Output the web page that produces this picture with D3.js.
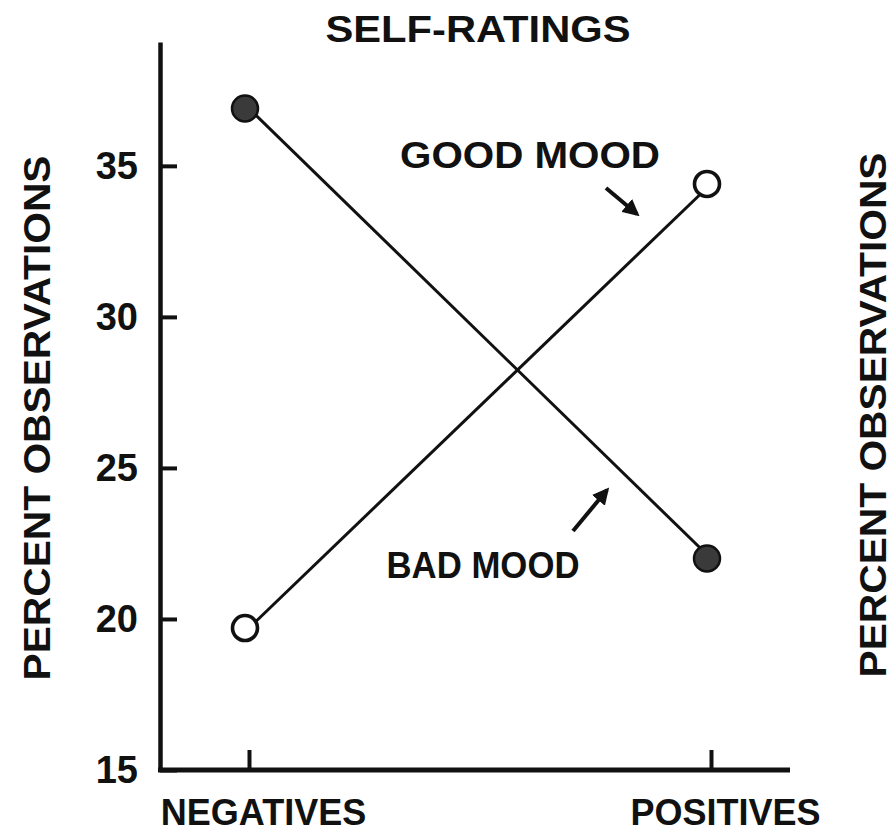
<!DOCTYPE html>
<html>
<head>
<meta charset="utf-8">
<script src="https://cdn.jsdelivr.net/npm/d3@7"></script>
<style>
  body { margin: 0; background: #fff; }
  text { font-family: "Liberation Sans", Arial, Helvetica, sans-serif; font-weight: bold; fill: #111; }
</style>
</head>
<body>
<svg id="chart" width="896" height="840"></svg>
<script>
// values
var categories = ["NEGATIVES", "POSITIVES"];
var goodMood = [19.7, 34.4];
var badMood = [36.9, 22.0];
var yTicks = [15, 20, 25, 30, 35];

var svg = d3.select("#chart");
var ink = "#111";

var y = d3.scaleLinear().domain([15, 39.1]).range([770, 42]);
var x = d3.scalePoint().domain(categories).range([249, 711]);

// title
svg.append("text")
  .attr("x", 478).attr("y", 42)
  .attr("text-anchor", "middle")
  .attr("font-size", 36)
  .attr("textLength", 305).attr("lengthAdjust", "spacingAndGlyphs")
  .text("SELF-RATINGS");

// y axis, ticks point inward
var yAxis = svg.append("g")
  .attr("transform", "translate(160,0)")
  .call(d3.axisLeft(y).tickValues(yTicks).tickSizeInner(-17).tickSizeOuter(0).tickPadding(22));
yAxis.select(".domain").attr("stroke", ink).attr("stroke-width", 4.5);
yAxis.selectAll(".tick line").attr("stroke", ink).attr("stroke-width", 4);
yAxis.selectAll(".tick text")
  .attr("font-size", 38).attr("font-family", null).attr("fill", ink);

// x axis
svg.append("line")
  .attr("x1", 158).attr("x2", 790)
  .attr("y1", y(15)).attr("y2", y(15))
  .attr("stroke", ink).attr("stroke-width", 5);

var xAxis = svg.append("g")
  .attr("transform", "translate(0," + y(15) + ")")
  .call(d3.axisBottom(x).tickSizeInner(-20).tickSizeOuter(0).tickPadding(29));
xAxis.select(".domain").remove();
xAxis.selectAll(".tick line").attr("stroke", ink).attr("stroke-width", 4);
xAxis.selectAll(".tick text")
  .attr("font-size", 36).attr("font-family", null).attr("fill", ink)
  .attr("dx", 14);

// axis titles
svg.append("text")
  .attr("transform", "translate(50,418) rotate(-90)")
  .attr("text-anchor", "middle")
  .attr("font-size", 36)
  .attr("textLength", 525).attr("lengthAdjust", "spacingAndGlyphs")
  .text("PERCENT OBSERVATIONS");

svg.append("text")
  .attr("transform", "translate(886,415) rotate(-90)")
  .attr("text-anchor", "middle")
  .attr("font-size", 36)
  .attr("textLength", 525).attr("lengthAdjust", "spacingAndGlyphs")
  .text("PERCENT OBSERVATIONS");

// lines
var line = d3.line()
  .x(function(d, i) { return x(categories[i]); })
  .y(function(d) { return y(d); });

svg.append("path").datum(badMood)
  .attr("d", line).attr("fill", "none")
  .attr("stroke", ink).attr("stroke-width", 3);
svg.append("path").datum(goodMood)
  .attr("d", line).attr("fill", "none")
  .attr("stroke", ink).attr("stroke-width", 3);

// points
svg.selectAll(".bad").data(badMood).enter()
  .append("circle").attr("class", "bad")
  .attr("cx", function(d, i) { return x(categories[i]) - 4; })
  .attr("cy", function(d) { return y(d); })
  .attr("r", 13)
  .attr("fill", "#3a3a3a").attr("stroke", ink).attr("stroke-width", 2.5);

svg.selectAll(".good").data(goodMood).enter()
  .append("circle").attr("class", "good")
  .attr("cx", function(d, i) { return x(categories[i]) - 4; })
  .attr("cy", function(d) { return y(d); })
  .attr("r", 12.5)
  .attr("fill", "#fff").attr("stroke", ink).attr("stroke-width", 3.6);

// annotations
svg.append("defs").append("marker")
  .attr("id", "head")
  .attr("viewBox", "0 0 10 10")
  .attr("refX", 8).attr("refY", 5)
  .attr("markerWidth", 4.2).attr("markerHeight", 4.2)
  .attr("orient", "auto")
  .append("path").attr("d", "M0,0L10,5L0,10Z").attr("fill", ink);

svg.append("text")
  .attr("x", 530).attr("y", 168)
  .attr("text-anchor", "middle").attr("font-size", 36)
  .attr("textLength", 260).attr("lengthAdjust", "spacingAndGlyphs")
  .text("GOOD MOOD");
svg.append("line")
  .attr("x1", 606).attr("y1", 188).attr("x2", 637).attr("y2", 214)
  .attr("stroke", ink).attr("stroke-width", 4)
  .attr("marker-end", "url(#head)");

svg.append("text")
  .attr("x", 483).attr("y", 578)
  .attr("text-anchor", "middle").attr("font-size", 36)
  .attr("textLength", 193).attr("lengthAdjust", "spacingAndGlyphs")
  .text("BAD MOOD");
svg.append("line")
  .attr("x1", 573).attr("y1", 531).attr("x2", 607).attr("y2", 490)
  .attr("stroke", ink).attr("stroke-width", 4)
  .attr("marker-end", "url(#head)");
</script>
</body>
</html>
